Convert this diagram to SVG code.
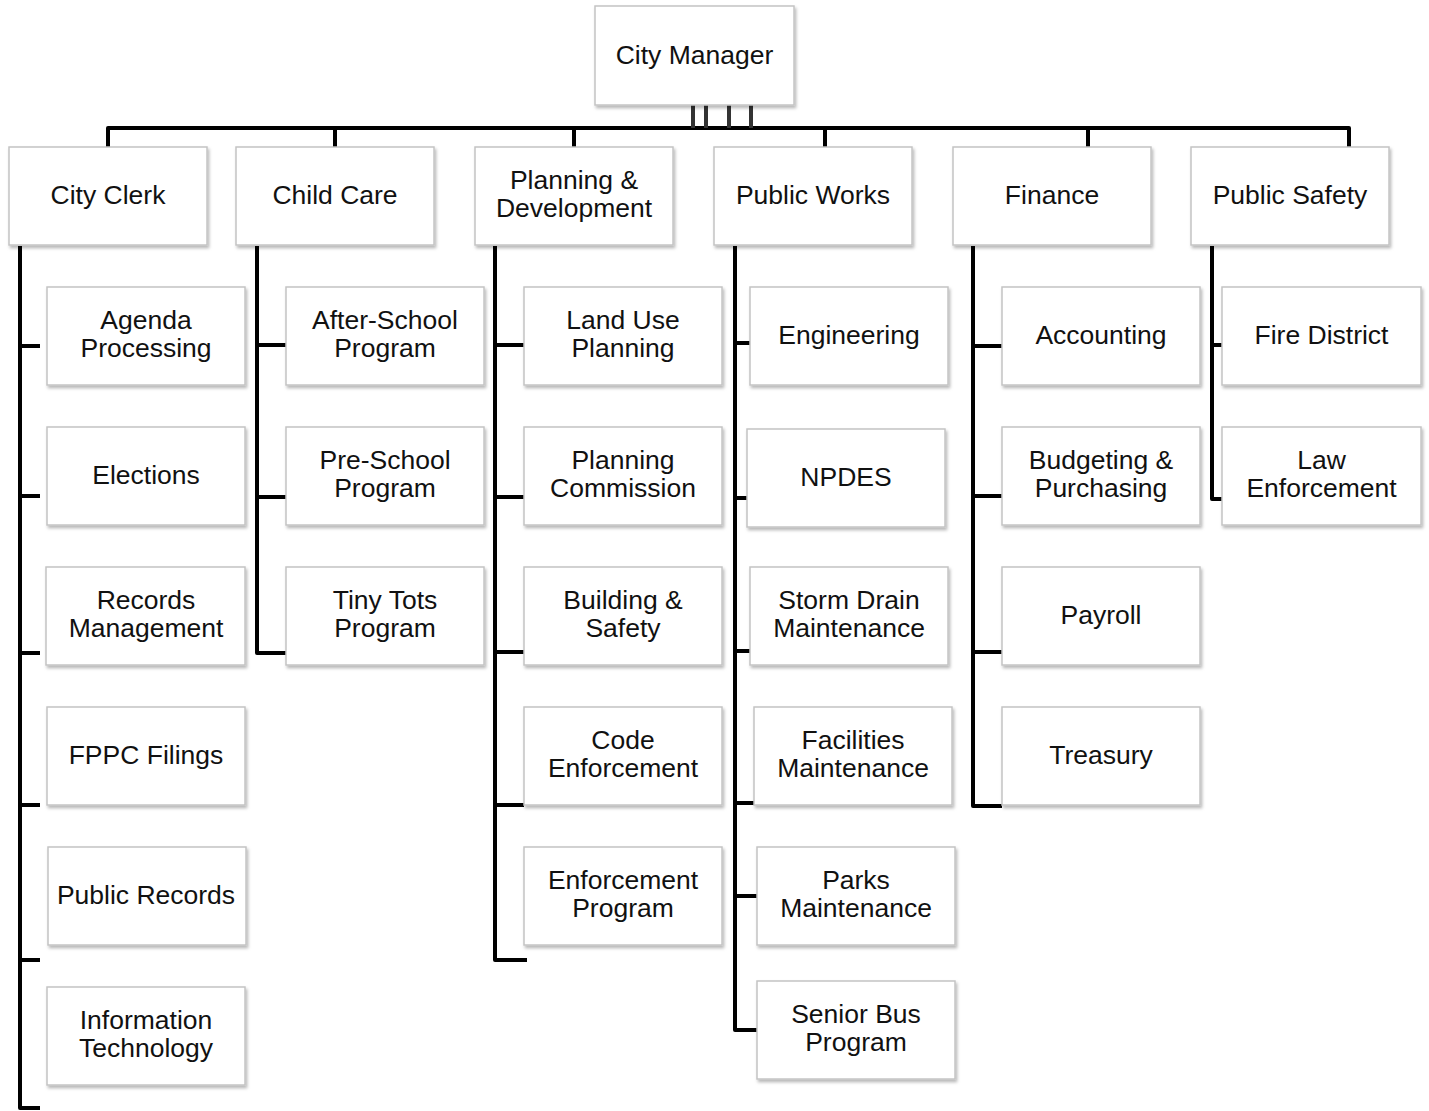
<svg xmlns="http://www.w3.org/2000/svg" width="1429" height="1111" viewBox="0 0 1429 1111">
<defs>
<filter id="sh" x="-10%" y="-10%" width="125%" height="130%">
<feDropShadow dx="1.5" dy="2.5" stdDeviation="1.6" flood-color="#000" flood-opacity="0.28"/>
</filter>
</defs>
<style>
.box{fill:#fff;stroke:#c4c4c4;stroke-width:1.5;filter:url(#sh)}
.t{font-family:"Liberation Sans",Arial,sans-serif;font-size:26.5px;fill:#111;text-anchor:middle}
.c{fill:none;stroke:#000;stroke-width:4;stroke-linejoin:round;stroke-linecap:butt}
.s{fill:none;stroke:#333;stroke-width:4}
</style>
<rect width="1429" height="1111" fill="#fff"/>
<g id="connectors">
<!-- top bus -->
<path class="c" d="M108,147 V128 H1349 V147"/>
<path class="s" d="M693,105 V128 M706,105 V128 M729,105 V128 M751,105 V128"/>
<path class="c" d="M335,128 V147 M574,128 V147 M825,128 V147 M1088,128 V147"/>
<!-- City Clerk -->
<path class="c" d="M20,246 V1108 H40 M20,346 H40 M20,496 H40 M20,653 H40 M20,805 H40 M20,960 H40"/>
<!-- Child Care -->
<path class="c" d="M257,246 V653 H286 M257,345 H286 M257,497 H286"/>
<!-- Planning -->
<path class="c" d="M495,246 V960 H527 M495,345 H524 M495,497 H524 M495,652 H524 M495,805 H524"/>
<!-- Public Works -->
<path class="c" d="M735,246 V1030 H757 M735,343 H750 M735,498 H747 M735,651 H750 M735,803 H754 M735,896 H757"/>
<!-- Finance -->
<path class="c" d="M973,246 V806 H1002 M973,346 H1002 M973,496 H1002 M973,652 H1002"/>
<!-- Public Safety -->
<path class="c" d="M1212,246 V499 H1222 M1212,345 H1222"/>
</g>
<g id="n-city-manager"><rect class="box" x="595" y="6" width="199" height="99"/><text class="t" x="694.5" y="64">City Manager</text></g>
<g id="n-city-clerk"><rect class="box" x="9" y="147" width="198" height="98"/><text class="t" x="108" y="204">City Clerk</text></g>
<g id="n-child-care"><rect class="box" x="236" y="147" width="198" height="98"/><text class="t" x="335" y="204">Child Care</text></g>
<g id="n-planning"><rect class="box" x="475" y="147" width="198" height="98"/><text class="t" x="574" y="189">Planning &amp;</text><text class="t" x="574" y="217">Development</text></g>
<g id="n-public-works"><rect class="box" x="714" y="147" width="198" height="98"/><text class="t" x="813" y="204">Public Works</text></g>
<g id="n-finance"><rect class="box" x="953" y="147" width="198" height="98"/><text class="t" x="1052" y="204">Finance</text></g>
<g id="n-public-safety"><rect class="box" x="1191" y="147" width="198" height="98"/><text class="t" x="1290" y="204">Public Safety</text></g>

<g id="n-agenda"><rect class="box" x="47" y="287" width="198" height="98"/><text class="t" x="146" y="329">Agenda</text><text class="t" x="146" y="357">Processing</text></g>
<g id="n-elections"><rect class="box" x="47" y="427" width="198" height="98"/><text class="t" x="146" y="484">Elections</text></g>
<g id="n-records"><rect class="box" x="46" y="567" width="199" height="98"/><text class="t" x="146" y="609">Records</text><text class="t" x="146" y="637">Management</text></g>
<g id="n-fppc"><rect class="box" x="47" y="707" width="198" height="98"/><text class="t" x="146" y="764">FPPC Filings</text></g>
<g id="n-public-records"><rect class="box" x="48" y="847" width="198" height="98"/><text class="t" x="146" y="904">Public Records</text></g>
<g id="n-it"><rect class="box" x="47" y="987" width="198" height="98"/><text class="t" x="146" y="1029">Information</text><text class="t" x="146" y="1057">Technology</text></g>

<g id="n-after-school"><rect class="box" x="286" y="287" width="198" height="98"/><text class="t" x="385" y="329">After-School</text><text class="t" x="385" y="357">Program</text></g>
<g id="n-pre-school"><rect class="box" x="286" y="427" width="198" height="98"/><text class="t" x="385" y="469">Pre-School</text><text class="t" x="385" y="497">Program</text></g>
<g id="n-tiny-tots"><rect class="box" x="286" y="567" width="198" height="98"/><text class="t" x="385" y="609">Tiny Tots</text><text class="t" x="385" y="637">Program</text></g>

<g id="n-land-use"><rect class="box" x="524" y="287" width="198" height="98"/><text class="t" x="623" y="329">Land Use</text><text class="t" x="623" y="357">Planning</text></g>
<g id="n-planning-commission"><rect class="box" x="524" y="427" width="198" height="98"/><text class="t" x="623" y="469">Planning</text><text class="t" x="623" y="497">Commission</text></g>
<g id="n-building"><rect class="box" x="524" y="567" width="198" height="98"/><text class="t" x="623" y="609">Building &amp;</text><text class="t" x="623" y="637">Safety</text></g>
<g id="n-code"><rect class="box" x="524" y="707" width="198" height="98"/><text class="t" x="623" y="749">Code</text><text class="t" x="623" y="777">Enforcement</text></g>
<g id="n-enf-program"><rect class="box" x="524" y="847" width="198" height="98"/><text class="t" x="623" y="889">Enforcement</text><text class="t" x="623" y="917">Program</text></g>

<g id="n-engineering"><rect class="box" x="750" y="287" width="198" height="98"/><text class="t" x="849" y="344">Engineering</text></g>
<g id="n-npdes"><rect class="box" x="747" y="429" width="198" height="98"/><text class="t" x="846" y="486">NPDES</text></g>
<g id="n-storm"><rect class="box" x="750" y="567" width="198" height="98"/><text class="t" x="849" y="609">Storm Drain</text><text class="t" x="849" y="637">Maintenance</text></g>
<g id="n-facilities"><rect class="box" x="754" y="707" width="198" height="98"/><text class="t" x="853" y="749">Facilities</text><text class="t" x="853" y="777">Maintenance</text></g>
<g id="n-parks"><rect class="box" x="757" y="847" width="198" height="98"/><text class="t" x="856" y="889">Parks</text><text class="t" x="856" y="917">Maintenance</text></g>
<g id="n-senior-bus"><rect class="box" x="757" y="981" width="198" height="98"/><text class="t" x="856" y="1023">Senior Bus</text><text class="t" x="856" y="1051">Program</text></g>

<g id="n-accounting"><rect class="box" x="1002" y="287" width="198" height="98"/><text class="t" x="1101" y="344">Accounting</text></g>
<g id="n-budgeting"><rect class="box" x="1002" y="427" width="198" height="98"/><text class="t" x="1101" y="469">Budgeting &amp;</text><text class="t" x="1101" y="497">Purchasing</text></g>
<g id="n-payroll"><rect class="box" x="1002" y="567" width="198" height="98"/><text class="t" x="1101" y="624">Payroll</text></g>
<g id="n-treasury"><rect class="box" x="1002" y="707" width="198" height="98"/><text class="t" x="1101" y="764">Treasury</text></g>

<g id="n-fire"><rect class="box" x="1222" y="287" width="199" height="98"/><text class="t" x="1321.5" y="344">Fire District</text></g>
<g id="n-law"><rect class="box" x="1222" y="427" width="199" height="98"/><text class="t" x="1321.5" y="469">Law</text><text class="t" x="1321.5" y="497">Enforcement</text></g>
</svg>
